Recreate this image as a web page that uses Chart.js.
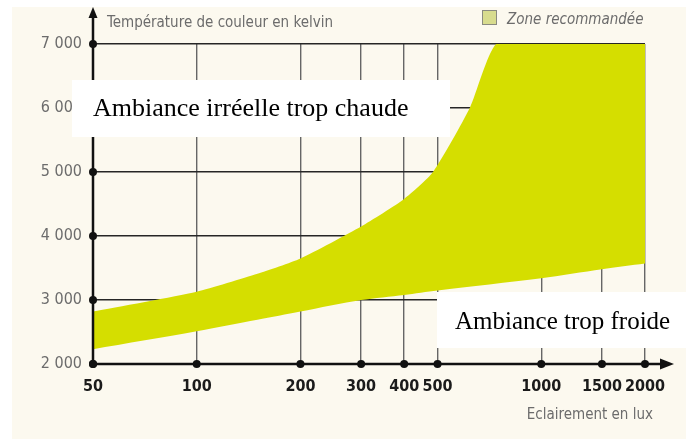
<!DOCTYPE html>
<html lang="fr">
<head>
<meta charset="utf-8">
<title>Température de couleur et éclairement</title>
<script src="https://cdn.jsdelivr.net/npm/chart.js@4.4.0/dist/chart.umd.min.js"></script>
<style>
    html, body { margin: 0; padding: 0; background: #fff; }
    #wrap { width: 686px; height: 439px; }
</style>
</head>
<body>
<div id="wrap"><canvas id="kruithofChart" width="686" height="439"></canvas></div>
<script>
/*global Chart, document*/
'use strict';

// éclairement en lux (axe horizontal, logarithmique)
var xTicks = [50, 100, 200, 300, 400, 500, 1000, 1500, 2000];
// température de couleur en kelvin
var yTicks = [2000, 3000, 4000, 5000, 6000, 7000];

// bord haut de la zone recommandée
var upperLux = [50, 100, 150, 200, 300, 400, 485, 620, 740, 1000, 1500, 2000];
var upperK   = [2820, 3130, 3410, 3650, 4150, 4580, 5000, 6000, 7000, 7000, 7000, 7000];

// bord bas de la zone recommandée
var lowerLux = [50, 100, 150, 200, 300, 400, 500, 1000, 1500, 2000];
var lowerK   = [2230, 2510, 2690, 2820, 3000, 3080, 3150, 3340, 3480, 3570];

var zoneLabel = 'Zone recommandée';
var yTitle    = 'Température de couleur en kelvin';
var xTitle    = 'Eclairement en lux';
var hotLabel  = 'Ambiance irréelle trop chaude';
var coldLabel = 'Ambiance trop froide';

var paper      = '#fcf9ef';
var zoneYellow = '#d5de00';
var inkGrey    = '#6c6c6c';
var narrow     = "'Liberation Sans Narrow', 'DejaVu Sans Condensed', 'Arial Narrow', sans-serif";
var serif      = "'Liberation Serif', 'Times New Roman', serif";

function pairs(xs, ys) {
    return xs.map(function (x, i) { return {x: x, y: ys[i]}; });
}

function dot(ctx, x, y) {
    ctx.beginPath();
    ctx.arc(x, y, 4, 0, Math.PI * 2);
    ctx.fill();
}

// fond papier, flèches des axes, points, encarts blancs et textes
var decor = {
    id: 'decor',
    beforeDraw: function (chart) {
        var ctx = chart.ctx;
        ctx.save();
        ctx.fillStyle = '#fff';
        ctx.fillRect(0, 0, chart.width, chart.height);
        ctx.fillStyle = paper;
        ctx.fillRect(12, 7, chart.width - 12, chart.height - 7);
        ctx.restore();
    },
    afterDraw: function (chart) {
        var ctx = chart.ctx,
            a = chart.chartArea,
            xs = chart.scales.x,
            ys = chart.scales.y;

        ctx.save();

        // axes
        ctx.strokeStyle = '#111';
        ctx.lineWidth = 2.5;
        ctx.beginPath();
        ctx.moveTo(a.left, a.bottom);
        ctx.lineTo(a.left, 14);
        ctx.moveTo(a.left, a.bottom);
        ctx.lineTo(664, a.bottom);
        ctx.stroke();

        ctx.fillStyle = '#111';
        ctx.beginPath();
        ctx.moveTo(a.left, 7);
        ctx.lineTo(a.left - 4.5, 18);
        ctx.lineTo(a.left + 4.5, 18);
        ctx.closePath();
        ctx.fill();
        ctx.beginPath();
        ctx.moveTo(674, a.bottom);
        ctx.lineTo(660, a.bottom - 5.5);
        ctx.lineTo(660, a.bottom + 5.5);
        ctx.closePath();
        ctx.fill();

        xTicks.forEach(function (v) { dot(ctx, xs.getPixelForValue(v), a.bottom); });
        yTicks.forEach(function (v) { dot(ctx, a.left, ys.getPixelForValue(v)); });

        // titres
        ctx.fillStyle = inkGrey;
        ctx.textBaseline = 'alphabetic';
        ctx.textAlign = 'left';
        ctx.font = '15px ' + narrow;
        ctx.fillText(yTitle, 107, 27);
        ctx.textAlign = 'right';
        ctx.fillText(xTitle, 653, 419);

        // légende
        ctx.fillStyle = '#d8dc8e';
        ctx.fillRect(482, 10, 15, 15);
        ctx.strokeStyle = '#8a8a80';
        ctx.lineWidth = 1;
        ctx.strokeRect(482.5, 10.5, 14, 14);
        ctx.fillStyle = inkGrey;
        ctx.textAlign = 'left';
        ctx.font = 'italic 15px ' + narrow;
        ctx.fillText(zoneLabel, 507, 24);

        // encarts
        ctx.fillStyle = '#fff';
        ctx.fillRect(72, 80, 378, 57);
        ctx.fillRect(437, 292, 249, 56);
        ctx.fillStyle = '#000';
        ctx.font = '26px ' + serif;
        ctx.fillText(hotLabel, 93, 116);
        ctx.font = '25px ' + serif;
        ctx.fillText(coldLabel, 455, 329);

        ctx.restore();
    }
};

var KRUITHOF = document.getElementById('kruithofChart');

var kruithofChart = new Chart(KRUITHOF, {
    type: 'line',
    data: {
        datasets: [
            {
                label: zoneLabel,
                data: pairs(upperLux, upperK),
                fill: '+1',
                backgroundColor: zoneYellow,
                borderColor: 'transparent',
                borderWidth: 0,
                pointRadius: 0,
                tension: 0.2
            },
            {
                label: 'limite basse',
                data: pairs(lowerLux, lowerK),
                fill: false,
                borderColor: 'transparent',
                borderWidth: 0,
                pointRadius: 0,
                tension: 0.3
            }
        ]
    },
    options: {
        responsive: false,
        animation: false,
        events: [],
        layout: {
            padding: {top: 44, right: 41, left: 0, bottom: 0}
        },
        plugins: {
            legend: {display: false},
            tooltip: {enabled: false}
        },
        scales: {
            x: {
                type: 'logarithmic',
                min: 50,
                max: 2000,
                z: 1,
                afterBuildTicks: function (scale) {
                    scale.ticks = xTicks.map(function (v) { return {value: v}; });
                },
                afterFit: function (scale) { scale.height = 75; },
                grid: {color: '#666', lineWidth: 1.4, drawTicks: false},
                border: {display: false},
                ticks: {
                    autoSkip: false,
                    maxRotation: 0,
                    padding: 13,
                    color: '#1b1b1b',
                    font: {family: narrow, size: 16, weight: 'bold'},
                    callback: function (v) { return String(v); }
                }
            },
            y: {
                min: 2000,
                max: 7000,
                z: 1,
                afterBuildTicks: function (scale) {
                    scale.ticks = yTicks.map(function (v) { return {value: v}; });
                },
                afterFit: function (scale) { scale.width = 93; },
                grid: {color: '#262626', lineWidth: 1.5, drawTicks: false},
                border: {display: false},
                ticks: {
                    padding: 11,
                    color: inkGrey,
                    font: {family: narrow, size: 16},
                    callback: function (v) { return String(v).replace(/(\d)(\d{3})$/, '$1 $2'); }
                }
            }
        }
    },
    plugins: [decor]
});
</script>
</body>
</html>
